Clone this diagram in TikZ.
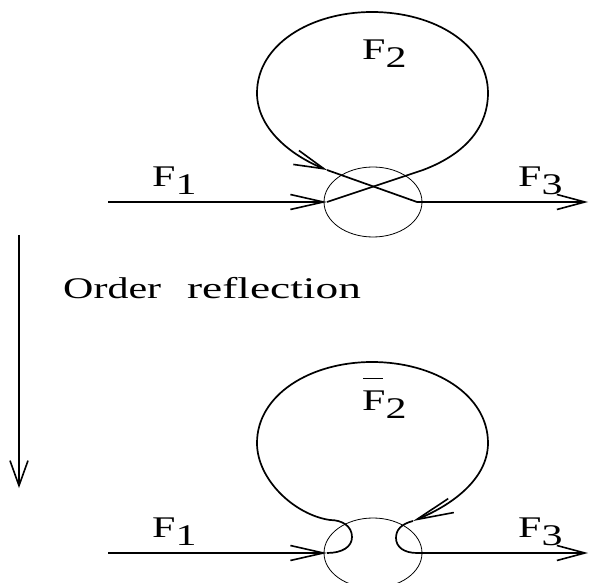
\documentclass[tikz,border=0pt]{standalone}
\usepackage{fontspec}
\setmainfont{Liberation Serif}[FakeStretch=1.4]
\usetikzlibrary{arrows.meta}
\newcommand\lowsub[1]{\raisebox{-8pt}{#1}}
\newcommand\barF{\makebox[0pt][l]{\hspace{1pt}\raisebox{31pt}{\rule{20pt}{1.2pt}}}F}
\tikzset{
  line/.style={line width=1.7pt, line join=round},
  thin/.style={line width=0.8pt},
  lbl/.style={anchor=base west, inner sep=0pt, font=\fontsize{30}{36}\selectfont},
  barb/.style={-{Straight Barb[length=#1, width=15pt, line width=1.6pt]}},
  barb/.default=32pt
}
\begin{document}
\begin{tikzpicture}[x=1pt, y=-1pt]
\useasboundingbox (0,0) rectangle (590,583);
\clip (0,0) rectangle (590,583);

% ---------- top diagram ----------
\coordinate (f1s) at (108,202);
\coordinate (x1) at (327,202);
\coordinate (r1) at (423,170);
\coordinate (l1) at (327,170);
\coordinate (x2) at (417,202);
\coordinate (f3e) at (588,202);
\coordinate (c1) at (373,202);

\draw[thin] (c1) ellipse [x radius=49, y radius=35];
\draw[line, barb=33pt] (f1s) -- (x1);
\draw[line, barb=30pt] (x1) -- (r1)
  .. controls (468,153) and (488,125) .. (488,93)
  .. controls (488,45) and (435,12) .. (372,12)
  .. controls (310,12) and (257,45) .. (257,93)
  .. controls (257,128) and (290,155) .. (l1);
\draw[line, barb=28pt] (l1) -- (x2) -- (f3e);

\node[lbl] (F1a) at (152,187) {F\lowsub{1}};
\node[lbl] (F2a) at (362,60) {F\lowsub{2}};
\node[lbl] (F3a) at (518,187) {F\lowsub{3}};

% ---------- middle ----------
\coordinate (as) at (19,235);
\coordinate (ae) at (19,488);
\draw[line, -{Straight Barb[length=25pt, width=18pt, line width=1.6pt]}] (as) -- (ae);
\node[lbl] (ord) at (63,299) {Order\hspace{26pt}\scalebox{1.08}[1]{reflection}};

% ---------- bottom diagram ----------
\coordinate (g1s) at (108,553);
\coordinate (y1) at (327,553);
\coordinate (hl) at (330,520);
\coordinate (hr) at (413,521);
\coordinate (y2) at (417,553);
\coordinate (g3e) at (588,553);
\coordinate (c2) at (373,553);

\draw[thin] (c2) ellipse [x radius=49, y radius=35];
\draw[line, barb=33pt] (g1s) -- (y1);
\draw[line, barb=37pt] (y1)
  .. controls (342,553) and (352,547) .. (352,537)
  .. controls (352,526) and (342,520) .. (hl)
  .. controls (295,515) and (257,480) .. (257,443)
  .. controls (257,395) and (310,362) .. (372,362)
  .. controls (435,362) and (488,395) .. (488,443)
  .. controls (488,480) and (450,506) .. (hr);
\draw[line, barb=28pt] (hr)
  .. controls (401,524) and (396,530) .. (396,538)
  .. controls (396,547) and (404,553) .. (y2) -- (g3e);

\node[lbl] (F1b) at (152,537) {F\lowsub{1}};
\node[lbl] (F2b) at (362,410) {\barF\lowsub{2}};
\node[lbl] (F3b) at (518,537) {F\lowsub{3}};
\end{tikzpicture}
\end{document}
